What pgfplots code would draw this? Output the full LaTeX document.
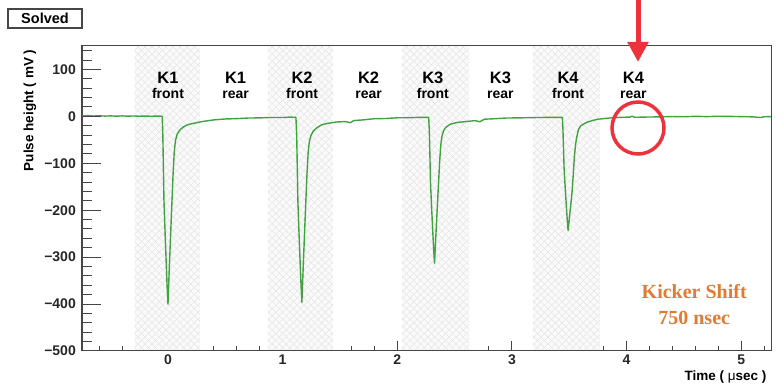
\documentclass[border=0pt]{standalone}
\usepackage{fontspec}
\setmainfont{Liberation Sans}
\newfontfamily\kserif{Liberation Serif}
\usepackage{pgfplots}
\pgfplotsset{compat=1.18}
\usetikzlibrary{patterns.meta,arrows.meta}
\definecolor{rootgreen}{RGB}{66,162,66}
\definecolor{kick}{RGB}{226,122,50}
\definecolor{arrowred}{RGB}{238,50,60}
\definecolor{framegray}{RGB}{70,70,70}
\begin{document}
\begin{tikzpicture}
\useasboundingbox (-82pt,-39pt) rectangle (702pt,351pt);
\pgfplotsset{
  rootbase/.style={
    at={(0,0)}, anchor=south west,
    scale only axis, width=689pt, height=305pt,
    xmin=-0.75, xmax=5.26, ymin=-500, ymax=150,
    clip=false,
    axis line style={framegray, line width=1pt},
    tick style={framegray, line width=1pt},
    tick align=inside,
    tick label style={font=\fontsize{14}{14}\selectfont\bfseries, text=black!85},
  },
  hatch/.style={draw=none, fill=gray!4,
    postaction={pattern color=gray!20, pattern={Lines[angle=45,distance=5pt,line width=0.5pt]}},
    postaction={pattern color=gray!20, pattern={Lines[angle=-45,distance=5pt,line width=0.5pt]}}},
}
\begin{axis}[rootbase,
  xtick={0,1,2,3,4,5},
  xticklabels={0,1,2,3,4,5},
  minor xtick={-0.6,-0.4,-0.2,0.2,0.4,0.6,0.8,1.2,1.4,1.6,1.8,2.2,2.4,2.6,2.8,3.2,3.4,3.6,3.8,4.2,4.4,4.6,4.8,5.2},
  xtick pos=bottom,
  ytick=\empty,
  major tick length=10pt, minor tick length=5pt,
  xticklabel style={inner sep=0pt, yshift=-4pt},
  xlabel={Time ( {\fontseries{m}\selectfont μ}sec )},
  every axis x label/.style={at={(axis description cs:1,0)}, anchor=east, yshift=-26pt, xshift=-1pt,
    font=\fontsize{13.5}{14}\selectfont\bfseries},
]
\addplot[hatch] coordinates {(-0.29,-500) (-0.29,150) (0.28,150) (0.28,-500)} -- cycle;
\addplot[hatch] coordinates {(0.87,-500) (0.87,150) (1.44,150) (1.44,-500)} -- cycle;
\addplot[hatch] coordinates {(2.04,-500) (2.04,150) (2.63,150) (2.63,-500)} -- cycle;
\addplot[hatch] coordinates {(3.18,-500) (3.18,150) (3.77,150) (3.77,-500)} -- cycle;

\addplot[rootgreen, line width=1.4pt, line join=round] table {
-0.75 1.0
-0.70 1.6
-0.65 0.8
-0.60 1.3
-0.55 0.6
-0.50 1.1
-0.45 0.4
-0.40 1.0
-0.35 0.5
-0.30 0.9
-0.25 0.3
-0.20 0.7
-0.15 0.2
-0.10 0.6
-0.05 0.3
-0.045 -40
-0.04 -110
-0.035 -180
-0.025 -250
-0.015 -315
-0.007 -365
0.000 -400
0.012 -320
0.025 -240
0.035 -180
0.045 -120
0.055 -75
0.065 -52
0.080 -38
0.100 -30
0.130 -23
0.170 -18
0.220 -15
0.300 -11
0.400 -7.5
0.500 -5.5
0.600 -4.8
0.700 -3.5
0.800 -3.2
0.900 -2.3
1.000 -2.4
1.060 -1.6
1.116 -2
1.123 -42
1.128 -110
1.133 -180
1.143 -250
1.153 -313
1.161 -362
1.168 -396
1.180 -318
1.193 -238
1.203 -178
1.213 -120
1.223 -76
1.233 -54
1.248 -40
1.268 -31
1.300 -24
1.340 -18
1.390 -15
1.470 -12
1.550 -11
1.590 -13.5
1.620 -9
1.700 -7.5
1.800 -5
1.900 -4.5
2.000 -3
2.100 -2.8
2.200 -2
2.274 -2.2
2.280 -33
2.285 -88
2.290 -142
2.300 -197
2.310 -247
2.318 -286
2.325 -313
2.337 -252
2.350 -190
2.360 -142
2.370 -95
2.380 -60
2.390 -42
2.405 -30
2.425 -23
2.460 -17
2.520 -13
2.600 -11
2.680 -9
2.720 -11.5
2.760 -6
2.850 -5
2.950 -3.5
3.050 -3.2
3.200 -2.5
3.300 -2.2
3.440 -2
3.445 -27
3.450 -68
3.455 -110
3.465 -153
3.475 -192
3.483 -222
3.490 -243
3.502 -215
3.515 -185
3.525 -160
3.535 -125
3.545 -85
3.555 -60
3.565 -45
3.580 -28
3.600 -20
3.650 -13
3.700 -9
3.750 -6
3.850 -3.5
3.950 -2
4.030 -1.5
4.050 0.5
4.070 -2
4.150 -1.5
4.300 -1
4.400 -0.3
4.500 -0.8
4.600 0.2
4.700 -0.5
4.800 0.3
4.900 0
5.000 -0.5
5.100 -1
5.170 -2.5
5.200 -0.8
5.260 -0.5
};

\foreach \xx/\kk/\ww in {0/K1/front, 0.59/K1/rear, 1.17/K2/front, 1.75/K2/rear, 2.31/K3/front, 2.90/K3/rear, 3.49/K4/front, 4.06/K4/rear}{
  \edef\tmp{\noexpand\node[font=\noexpand\fontsize{16.5}{17}\noexpand\selectfont\noexpand\bfseries, inner sep=0pt] at (axis cs:\xx,82) {\kk};
  \noexpand\node[font=\noexpand\fontsize{14}{14}\noexpand\selectfont\noexpand\bfseries, inner sep=0pt, anchor=base] at (axis cs:\xx,38) {\ww};}
  \tmp
}
\node[font=\kserif\fontsize{20}{20}\selectfont\bfseries, text=kick, inner sep=0pt] at (axis cs:4.59,-374) {Kicker Shift};
\node[font=\kserif\fontsize{20}{20}\selectfont\bfseries, text=kick, inner sep=0pt] at (axis cs:4.59,-430) {750 nsec};
\end{axis}

\begin{axis}[rootbase,
  xtick=\empty,
  ytick={-500,-400,-300,-200,-100,0,100},
  yticklabels={−500,−400,−300,−200,−100,0,100},
  minor ytick={-480,-460,-440,-420,-380,-360,-340,-320,-280,-260,-240,-220,-180,-160,-140,-120,-80,-60,-40,-20,20,40,60,80,120,140},
  ytick pos=left,
  major tick length=19pt, minor tick length=10pt,
  yticklabel style={inner sep=0pt, xshift=-6pt, anchor=east},
  ylabel={Pulse height ( mV )},
  every axis y label/.style={at={(axis description cs:-0.0755,1)}, rotate=90, anchor=east,
    font=\fontsize{13.5}{14}\selectfont\bfseries},
]
\end{axis}

% annotations
\draw[framegray, line width=1.2pt, fill=white] (-74pt,323pt) rectangle (0pt,342pt);
\node[font=\fontsize{14.5}{15}\selectfont\bfseries, inner sep=0pt] at (-37pt,332.5pt) {Solved};
\draw[arrowred, line width=5pt, -{Triangle[width=20pt,length=20pt]}] (556pt,352pt) -- (556pt,289pt);
\draw[arrowred, line width=3.5pt] (556pt,223pt) circle[radius=26pt];
\end{tikzpicture}
\end{document}
